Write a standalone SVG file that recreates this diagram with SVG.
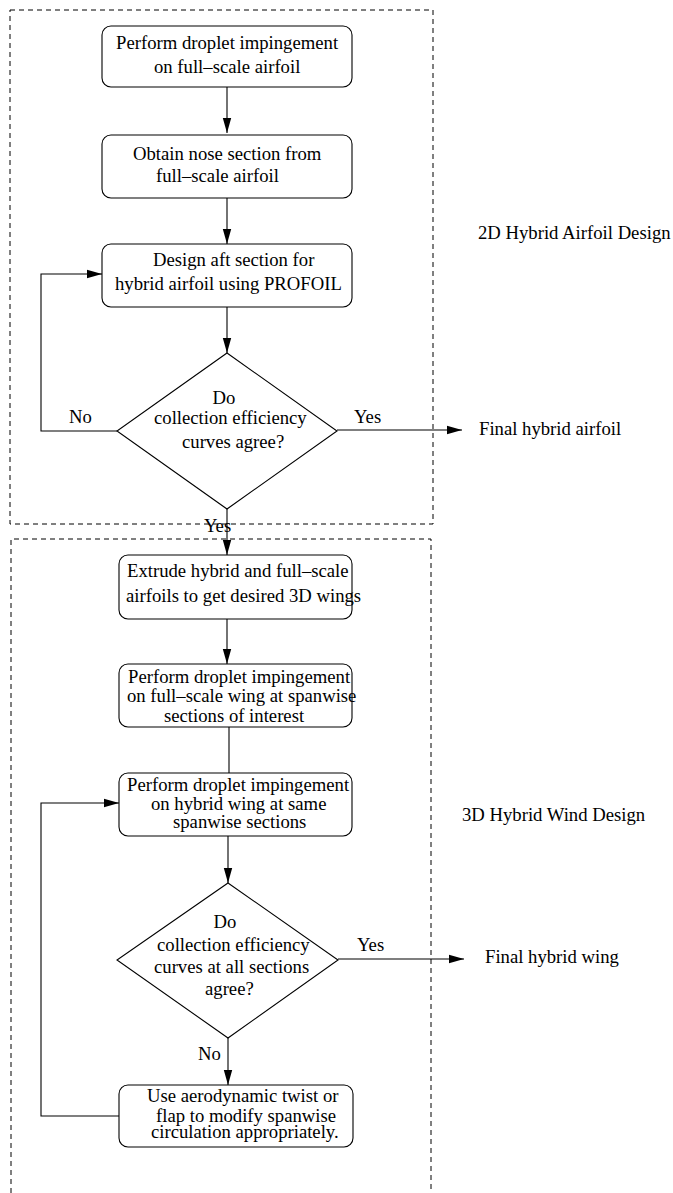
<svg xmlns="http://www.w3.org/2000/svg" width="673" height="1193" viewBox="0 0 673 1193">
<style>
text{font-family:"Liberation Serif","Times New Roman",serif;font-size:18.7px;fill:#000}
.box{fill:#fff;stroke:#000;stroke-width:1.1}
.grp{fill:none;stroke:#000;stroke-width:1;stroke-dasharray:5,4}
.ln{fill:none;stroke:#000;stroke-width:1.1}
.arr{marker-end:url(#ah)}
</style>
<defs>
<marker id="ah" markerUnits="userSpaceOnUse" markerWidth="16" markerHeight="10" refX="15" refY="5" orient="auto">
<path d="M0,0.8 L15,5 L0,9.2 Z" fill="#000"/>
</marker>
</defs>
<rect width="673" height="1193" fill="#fff"/>

<g id="group-2d">
<rect class="grp" x="10" y="10" width="423" height="514"/>
<text x="478" y="239">2D Hybrid Airfoil Design</text>
</g>
<g id="group-3d">
<path class="grp" d="M11,1193 L11,539 L431,539 L431,1193"/>
<text x="462" y="821">3D Hybrid Wind Design</text>
</g>

<g id="connectors">
<path class="ln arr" d="M227,87 L227,133"/>
<path class="ln arr" d="M227,198 L227,244"/>
<path class="ln arr" d="M227,307 L227,353"/>
<path class="ln arr" d="M117,431 L41,431 L41,274 L102,274"/>
<path class="ln arr" d="M337,430 L462,430"/>
<path class="ln arr" d="M227,509 L227,555"/>
<path class="ln arr" d="M227,619 L227,664"/>
<path class="ln" d="M229,727 L229,773"/>
<path class="ln arr" d="M228,836 L228,883"/>
<path class="ln arr" d="M338,959 L464,959"/>
<path class="ln arr" d="M228,1038 L228,1085"/>
<path class="ln arr" d="M119,1116 L41,1116 L41,803 L119,803"/>
<text x="69" y="423">No</text>
<text x="354" y="423">Yes</text>
<text x="204" y="532">Yes</text>
<text x="357" y="951">Yes</text>
<text x="198" y="1060">No</text>
<text x="479" y="435">Final hybrid airfoil</text>
<text x="485" y="963">Final hybrid wing</text>
</g>

<g id="n1">
<rect class="box" x="102" y="26" width="250" height="61" rx="9"/>
<text x="116" y="49">Perform droplet impingement</text>
<text x="154" y="73">on full–scale airfoil</text>
</g>
<g id="n2">
<rect class="box" x="102" y="135" width="250" height="63" rx="9"/>
<text x="133" y="160">Obtain nose section from</text>
<text x="156" y="182">full–scale airfoil</text>
</g>
<g id="n3">
<rect class="box" x="102" y="244" width="250" height="63" rx="9"/>
<text x="153" y="266">Design aft section for</text>
<text x="115" y="290">hybrid airfoil using PROFOIL</text>
</g>
<g id="d1">
<polygon class="box" points="227,353 337,431 227,509 117,431"/>
<text x="224" y="404" text-anchor="middle">Do</text>
<text x="154" y="424">collection efficiency</text>
<text x="182" y="448">curves agree?</text>
</g>
<g id="n4">
<rect class="box" x="119" y="555" width="233" height="64" rx="9"/>
<text x="127" y="577">Extrude hybrid and full–scale</text>
<text x="126" y="602">airfoils to get desired 3D wings</text>
</g>
<g id="n5">
<rect class="box" x="119" y="664" width="233" height="63" rx="9"/>
<text x="128" y="683">Perform droplet impingement</text>
<text x="127" y="702">on full–scale wing at spanwise</text>
<text x="164" y="722">sections of interest</text>
</g>
<g id="n6">
<rect class="box" x="119" y="773" width="233" height="63" rx="9"/>
<text x="127" y="791">Perform droplet impingement</text>
<text x="151" y="810">on hybrid wing at same</text>
<text x="173" y="828">spanwise sections</text>
</g>
<g id="d2">
<polygon class="box" points="228,883 338,960 228,1038 117,960"/>
<text x="225" y="928" text-anchor="middle">Do</text>
<text x="157" y="951">collection efficiency</text>
<text x="154" y="973">curves at all sections</text>
<text x="205" y="995">agree?</text>
</g>
<g id="n7">
<rect class="box" x="119" y="1085" width="234" height="62" rx="9"/>
<text x="147" y="1102">Use aerodynamic twist or</text>
<text x="156" y="1122">flap to modify spanwise</text>
<text x="151" y="1138">circulation appropriately.</text>
</g>
</svg>
